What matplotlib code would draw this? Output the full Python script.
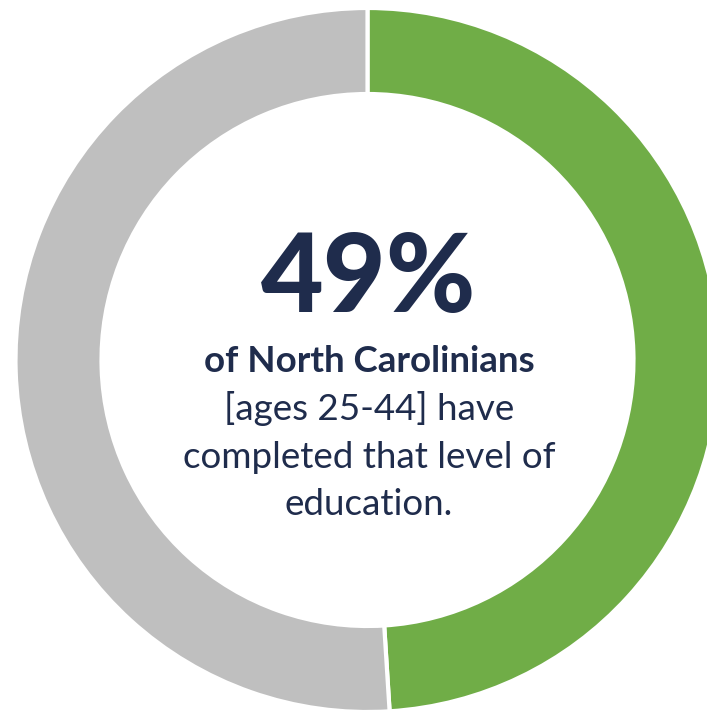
import matplotlib
matplotlib.use("Agg")
import matplotlib.pyplot as plt

# share of NC adults 25-44 who completed the level of education
labels = ["Completed", "Not completed"]
values = [49, 51]
colors = ["#70AD47", "#BFBFBF"]

big_label = "49%"
lines = ["of North Carolinians", "[ages 25-44] have", "completed that level of", "education."]

W, H = 707, 712
fig = plt.figure(figsize=(W / 100, H / 100), dpi=100)
ax = fig.add_axes([0, 0, 1, 1])

# donut, centred a bit right so the green side runs off the edge
cx, cy, R = 367.5, H - 360, 352
ax.pie(values, colors=colors, startangle=90, counterclock=False,
       center=(cx, cy), radius=R,
       wedgeprops=dict(width=R - 266, edgecolor="white", linewidth=3))

ax.set_xlim(0, W)
ax.set_ylim(0, H)
ax.set_aspect("equal")
ax.axis("off")

navy = "#1F2C4C"
ax.text(cx + 1, H - 312, big_label, ha="center", va="baseline",
        fontsize=78, fontfamily="Lato", fontweight="black", color=navy)

baselines = [372, 420, 468, 515]
for i, (s, b) in enumerate(zip(lines, baselines)):
    ax.text(cx + 1.5, H - b, s, ha="center", va="baseline", fontsize=26.5,
            fontfamily="Lato", fontweight="bold" if i == 0 else "normal",
            color=navy)

fig.savefig("out.png", dpi=100)
